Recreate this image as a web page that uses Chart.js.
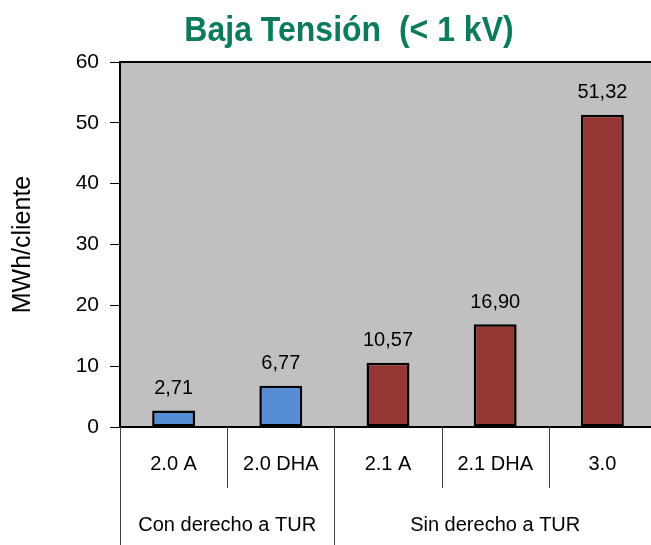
<!DOCTYPE html>
<html>
<head>
<meta charset="utf-8">
<script src="https://cdn.jsdelivr.net/npm/chart.js@4.4.0/dist/chart.umd.min.js"></script>
<style>
  body { margin: 0; overflow: hidden; background: #fff; }
</style>
</head>
<body>
<canvas id="bt_chart" width="656" height="545"></canvas>
<script>
// data
var categories = ['2.0 A', '2.0 DHA', '2.1 A', '2.1 DHA', '3.0'];
var values = [2.71, 6.77, 10.57, 16.90, 51.32];
var groups = ['Con derecho a TUR', 'Sin derecho a TUR'];
var groupSizes = [2, 3];
var groupColors = ['rgb(85, 142, 213)', 'rgb(149, 55, 53)'];
var yTicks = [0, 10, 20, 30, 40, 50, 60];

var FONT = "'Liberation Sans', Arial, sans-serif";

var barColors = [];
groupSizes.forEach(function (n, g) {
   for (var i = 0; i < n; i++) barColors.push(groupColors[g]);
});

function commaNum(v) {
   return v.toFixed(2).replace('.', ',');
}

// gray plot background + frame
var plotBackground = {
   id: 'plotBackground',
   beforeDraw: function (chart) {
      var a = chart.chartArea, ctx = chart.ctx;
      ctx.save();
      ctx.fillStyle = '#c0c0c0';
      ctx.fillRect(a.left, a.top, a.right - a.left, a.bottom - a.top);
      ctx.strokeStyle = '#000';
      ctx.lineWidth = 2;
      ctx.beginPath();
      ctx.moveTo(a.left, a.top);
      ctx.lineTo(a.right, a.top);
      ctx.stroke();
      ctx.restore();
   }
};

// title + value labels + grouped category axis
var decorations = {
   id: 'decorations',
   afterDraw: function (chart) {
      var ctx = chart.ctx, x = chart.scales.x, a = chart.chartArea;
      ctx.save();

      // title looks a bit taller than plain Arial in the original
      ctx.save();
      ctx.translate(349, 31);
      ctx.scale(1, 1.12);
      ctx.fillStyle = '#0b7b5b';
      ctx.font = 'bold 32px ' + FONT;
      ctx.textAlign = 'center';
      ctx.textBaseline = 'middle';
      ctx.fillText('Baja Tensión  (< 1 kV)', 0, 0);
      ctx.restore();

      ctx.fillStyle = '#000';
      ctx.font = '20px ' + FONT;
      ctx.textAlign = 'center';
      ctx.textBaseline = 'middle';
      chart.getDatasetMeta(0).data.forEach(function (bar, i) {
         ctx.fillText(commaNum(values[i]), bar.x, bar.y - 22);
      });

      var step = x.getPixelForValue(1) - x.getPixelForValue(0);
      ctx.strokeStyle = '#404040';
      ctx.lineWidth = 1;
      var idx = 0;
      groupSizes.forEach(function (n, g) {
         var left = x.getPixelForValue(idx) - step / 2;
         var right = x.getPixelForValue(idx + n - 1) + step / 2;
         ctx.beginPath();
         ctx.moveTo(Math.round(left) + 0.5, a.bottom);
         ctx.lineTo(Math.round(left) + 0.5, 545);
         ctx.stroke();
         for (var k = 1; k < n; k++) {
            var px = Math.round(left + k * step) + 0.5;
            ctx.beginPath();
            ctx.moveTo(px, a.bottom);
            ctx.lineTo(px, 488);
            ctx.stroke();
         }
         ctx.fillText(groups[g], (left + right) / 2, 525);
         idx += n;
      });
      ctx.restore();
   }
};

var config = {
   type: 'bar',
   data: {
      labels: categories,
      datasets: [{
         data: values,
         backgroundColor: barColors,
         borderColor: '#000',
         borderWidth: 2.5,
         borderSkipped: false,
         barPercentage: 0.4,
         categoryPercentage: 1
      }]
   },
   options: {
      responsive: false,
      animation: false,
      layout: { padding: { top: 62, left: 0, right: 0, bottom: 0 } },
      plugins: {
         legend: { display: false },
         tooltip: { enabled: false }
      },
      scales: {
         x: {
            grid: { display: false },
            border: { color: '#000', width: 2 },
            ticks: { color: '#000', font: { family: FONT, size: 20 }, padding: 17, maxRotation: 0 },
            afterFit: function (s) { s.height = 118; }
         },
         y: {
            min: 0,
            max: 60,
            afterBuildTicks: function (s) { s.ticks = yTicks.map(function (v) { return { value: v }; }); },
            grid: { drawOnChartArea: false, color: '#000', tickLength: 10 },
            border: { color: '#000', width: 2 },
            ticks: { color: '#000', font: { family: FONT, size: 21 }, padding: 11 },
            title: {
               display: true,
               text: 'MWh/cliente',
               color: '#000',
               font: { family: FONT, size: 25 },
               padding: { top: 8, bottom: 0 }
            },
            afterFit: function (s) { s.width = 120; }
         }
      }
   },
   plugins: [plotBackground, decorations]
};

new Chart(document.getElementById('bt_chart').getContext('2d'), config);
</script>
</body>
</html>
